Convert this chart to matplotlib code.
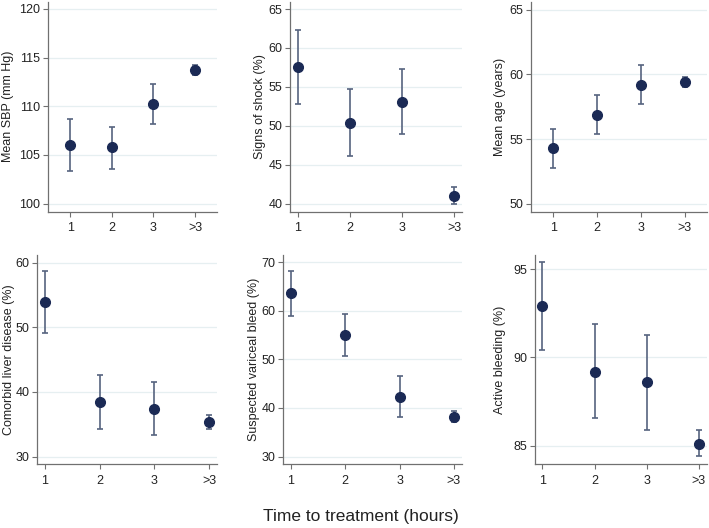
import matplotlib.pyplot as plt
import numpy as np

plt.rcParams['font.family'] = ['Liberation Sans', 'DejaVu Sans']
plt.rcParams['font.size'] = 8

# Time categories
groups = ['1', '2', '3', '>3']

# Point estimates and 95% CIs
sbp_mean = [106.0, 105.8, 110.2, 113.7]
sbp_lo = [103.4, 103.6, 108.2, 113.2]
sbp_hi = [108.7, 107.9, 112.3, 114.2]

shock_mean = [57.5, 50.4, 53.1, 41.0]
shock_lo = [52.8, 46.1, 48.9, 40.0]
shock_hi = [62.3, 54.7, 57.3, 42.1]

age_mean = [54.3, 56.9, 59.2, 59.4]
age_lo = [52.8, 55.4, 57.7, 59.0]
age_hi = [55.8, 58.4, 60.7, 59.8]

liver_mean = [54.0, 38.5, 37.3, 35.3]
liver_lo = [49.1, 34.3, 33.4, 34.3]
liver_hi = [58.8, 42.7, 41.6, 36.4]

varix_mean = [63.6, 55.0, 42.3, 38.2]
varix_lo = [59.0, 50.7, 38.1, 37.2]
varix_hi = [68.3, 59.3, 46.5, 39.3]

bleed_mean = [92.9, 89.2, 88.6, 85.1]
bleed_lo = [90.4, 86.6, 85.9, 84.4]
bleed_hi = [95.4, 91.9, 91.3, 85.9]

panels = [
    ('Mean SBP (mm Hg)', sbp_mean, sbp_lo, sbp_hi, [100, 105, 110, 115, 120]),
    ('Signs of shock (%)', shock_mean, shock_lo, shock_hi, [40, 45, 50, 55, 60, 65]),
    ('Mean age (years)', age_mean, age_lo, age_hi, [50, 55, 60, 65]),
    ('Comorbid liver disease (%)', liver_mean, liver_lo, liver_hi, [30, 40, 50, 60]),
    ('Suspected variceal bleed (%)', varix_mean, varix_lo, varix_hi, [30, 40, 50, 60, 70]),
    ('Active bleeding (%)', bleed_mean, bleed_lo, bleed_hi, [85, 90, 95]),
]

# axes boxes (left, bottom, width, height), limits and label gaps, per panel
boxes = [
    [0.0677, 0.5994, 0.2384, 0.3968],
    [0.4090, 0.5994, 0.2426, 0.3968],
    [0.7485, 0.5994, 0.2482, 0.3968],
    [0.0526, 0.1206, 0.2530, 0.3964],
    [0.3996, 0.1206, 0.2520, 0.3964],
    [0.7546, 0.1206, 0.2422, 0.3964],
]
xlims = [(0.47, 4.53), (0.85, 4.15), (0.48, 4.50), (0.86, 4.14), (0.86, 4.15), (0.86, 4.15)]
ylims = [(99.2, 120.7), (39.0, 65.9), (49.4, 65.6), (28.8, 61.2), (28.4, 71.5), (83.95, 95.8)]
pads = [3.5, 1.5, 2.5, 0.8, 1.0, 5.5]

marker_col = '#1b2a55'
bar_col = '#56637f'

fig = plt.figure(figsize=(7.09, 5.28), dpi=100)
x = np.arange(1, 5)

for i, (label, m, lo, hi, yt) in enumerate(panels):
    ax = fig.add_axes(boxes[i])
    m = np.array(m)
    yerr = [m - np.array(lo), np.array(hi) - m]
    ax.errorbar(x, m, yerr=yerr, fmt='o', color=marker_col, ecolor=bar_col,
                elinewidth=1.2, capsize=2.5, capthick=1.2, markersize=7, zorder=3)
    ax.set_xlim(*xlims[i])
    ax.set_ylim(*ylims[i])
    ax.set_xticks(x)
    ax.set_xticklabels(groups)
    ax.set_yticks(yt)
    ax.set_ylabel(label, fontsize=9, color='#222222', labelpad=pads[i])
    ax.grid(axis='y', color='#e6eff1', linewidth=0.9)
    ax.set_axisbelow(True)
    for s in ['top', 'right']:
        ax.spines[s].set_visible(False)
    for s in ['left', 'bottom']:
        ax.spines[s].set_color('#707070')
        ax.spines[s].set_linewidth(0.9)
    ax.tick_params(colors='#707070', labelcolor='#222222', length=3.5, width=0.8,
                   labelsize=9)
    ax.tick_params(axis='x', pad=4)
    ax.tick_params(axis='y', pad=2)

fig.text(0.509, 0.022, 'Time to treatment (hours)', ha='center', va='center',
         fontsize=12.5, color='#222222')

plt.savefig('out.png', dpi=100)
